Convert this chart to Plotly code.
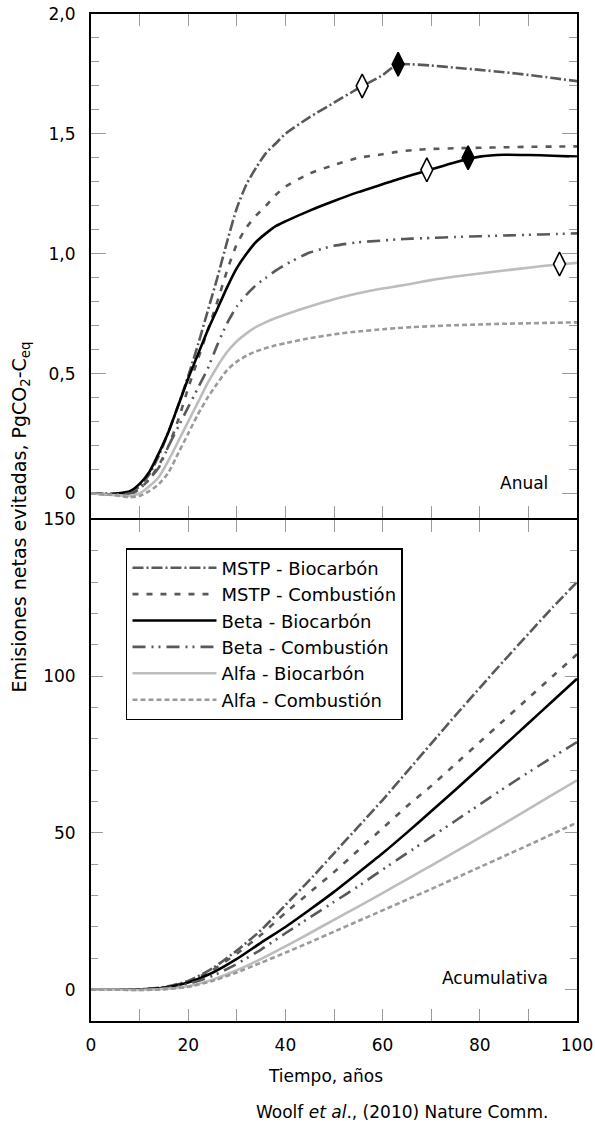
import plotly.graph_objects as go
from plotly.subplots import make_subplots

# ---------------- data ----------------
SERIES = ["MSTP - Biocarbón", "MSTP - Combustión", "Beta - Biocarbón",
          "Beta - Combustión", "Alfa - Biocarbón", "Alfa - Combustión"]

annual_x = [0, 4, 8, 10, 12, 14, 16, 18, 20, 22, 24, 26, 28, 30, 32, 34, 36, 38, 40,
            45, 50, 55, 60, 63, 66, 70, 75, 80, 85, 90, 95, 100]
annual_mstp_bio = [0, 0, 0.005, 0.03, 0.08, 0.16, 0.26, 0.37, 0.49, 0.62, 0.76, 0.90, 1.05,
                   1.19, 1.29, 1.36, 1.42, 1.46, 1.50, 1.57, 1.63, 1.69, 1.745, 1.79, 1.79,
                   1.785, 1.776, 1.767, 1.757, 1.746, 1.733, 1.72]
annual_mstp_comb = [0, -0.003, -0.005, 0.02, 0.06, 0.12, 0.2, 0.31, 0.44, 0.56, 0.68, 0.80,
                    0.93, 1.04, 1.11, 1.16, 1.20, 1.245, 1.28, 1.335, 1.37, 1.40, 1.415,
                    1.425, 1.432, 1.437, 1.44, 1.442, 1.444, 1.446, 1.447, 1.448]
annual_beta_bio = [0, -0.003, 0.01, 0.04, 0.09, 0.17, 0.26, 0.37, 0.48, 0.58, 0.68, 0.77,
                   0.86, 0.94, 1.0, 1.05, 1.085, 1.115, 1.135, 1.18, 1.22, 1.257, 1.29,
                   1.31, 1.328, 1.352, 1.382, 1.405, 1.413, 1.412, 1.409, 1.405]
annual_beta_comb = [0, -0.003, 0.0, 0.02, 0.06, 0.11, 0.2, 0.28, 0.36, 0.44, 0.52, 0.62,
                    0.71, 0.78, 0.83, 0.87, 0.90, 0.93, 0.955, 1.005, 1.033, 1.048, 1.055,
                    1.06, 1.063, 1.066, 1.07, 1.073, 1.076, 1.079, 1.082, 1.085]
annual_alfa_bio = [0, -0.005, -0.01, 0.0, 0.03, 0.07, 0.14, 0.22, 0.30, 0.38, 0.46, 0.53,
                   0.59, 0.635, 0.668, 0.695, 0.715, 0.732, 0.747, 0.78, 0.81, 0.835, 0.855,
                   0.865, 0.875, 0.89, 0.905, 0.918, 0.93, 0.942, 0.953, 0.962]
annual_alfa_comb = [0, -0.005, -0.015, -0.01, 0.01, 0.04, 0.09, 0.17, 0.25, 0.33, 0.40, 0.46,
                    0.515, 0.55, 0.575, 0.593, 0.607, 0.618, 0.627, 0.648, 0.664, 0.676,
                    0.685, 0.69, 0.694, 0.698, 0.702, 0.705, 0.708, 0.71, 0.712, 0.714]

cum_x = [0, 5, 10, 15, 20, 25, 30, 35, 40, 45, 50, 55, 60, 65, 70, 75, 80, 85, 90, 95, 100]
cum_mstp_bio = [0, 0, 0.1, 0.8, 2.8, 6.8, 12.5, 19, 27, 35, 43.5, 52, 60.5, 69.5, 78.5, 87.5,
                96.3, 105, 113.5, 122, 130]
cum_mstp_comb = [0, 0, 0.05, 0.7, 2.6, 6.3, 11.5, 17.5, 24.5, 31, 37.5, 44.5, 51.5, 58.5, 65,
                 72, 79, 86, 93, 100, 107]
cum_beta_bio = [0, 0, 0.05, 0.6, 2.3, 5.4, 9.8, 15, 20, 25.5, 31.2, 37.3, 43.5, 50.1, 56.9,
                63.8, 70.8, 77.9, 85, 92.1, 99.2]
cum_beta_comb = [0, 0, 0, 0.4, 1.8, 4.4, 8.2, 12.8, 18, 23, 28, 33, 38.3, 43.5, 48.7, 53.9,
                 59.1, 64.3, 69.3, 74.2, 79]
cum_alfa_bio = [0, 0, -0.1, 0.2, 1.1, 3.2, 6.2, 9.8, 13.8, 18, 22.3, 26.5, 30.8, 35.2, 39.6,
                44, 48.5, 53, 57.6, 62.2, 66.8]
cum_alfa_comb = [0, 0, -0.1, 0.1, 0.9, 2.8, 5.5, 8.6, 11.8, 15.1, 18.5, 21.9, 25.3, 28.7,
                 32.1, 35.6, 39.1, 42.6, 46.1, 49.7, 53.3]

# diamond markers on the annual curves (open / filled)
marker_x = [55.8, 63.2, 69.1, 77.6, 96.4]
marker_y = [1.70, 1.79, 1.35, 1.40, 0.957]
marker_filled = [False, True, False, True, False]

x_tickvals = [0, 20, 40, 60, 80, 100]
x_ticktext = ["0", "20", "40", "60", "80", "100"]
top_tickvals = [0, 0.5, 1.0, 1.5, 2.0]
top_ticktext = ["0", "0,5", "1,0", "1,5", "2,0"]
bot_tickvals = [0, 50, 100, 150]
bot_ticktext = ["0", "50", "100", "150"]

# ---------------- styles ----------------
DARK = "#595959"
styles = [
    dict(color=DARK, width=2.6, dash="11px,3px,2px,3px"),
    dict(color=DARK, width=2.6, dash="6px,8px"),
    dict(color="#000000", width=2.6, dash="solid"),
    dict(color=DARK, width=2.6, dash="13px,6px,2px,5px,2px,6px"),
    dict(color="#bdbdbd", width=2.6, dash="solid"),
    dict(color="#9a9a9a", width=2.6, dash="5px,3px"),
]
annual = [annual_mstp_bio, annual_mstp_comb, annual_beta_bio, annual_beta_comb,
          annual_alfa_bio, annual_alfa_comb]
cumul = [cum_mstp_bio, cum_mstp_comb, cum_beta_bio, cum_beta_comb, cum_alfa_bio, cum_alfa_comb]

FONT = "DejaVu Sans, Liberation Sans, Arial, sans-serif"

fig = make_subplots(rows=2, cols=1, shared_xaxes=True, vertical_spacing=0)

for i, name in enumerate(SERIES):
    fig.add_trace(go.Scatter(x=annual_x, y=annual[i], mode="lines", name=name,
                             line=dict(**styles[i], shape="spline", smoothing=0.6),
                             showlegend=False), row=1, col=1)
for i, name in enumerate(SERIES):
    fig.add_trace(go.Scatter(x=cum_x, y=cumul[i], mode="lines", name=name,
                             line=dict(**styles[i], shape="spline", smoothing=0.6),
                             showlegend=True), row=2, col=1)

fig.add_trace(go.Scatter(
    x=marker_x, y=marker_y, mode="markers", showlegend=False,
    marker=dict(symbol="diamond-tall", size=17,
                color=["#000000" if f else "#ffffff" for f in marker_filled],
                line=dict(color="#000000", width=1.6))), row=1, col=1)

TICKC = "#9a9a9a"
common_x = dict(range=[0, 100], tickvals=x_tickvals, ticktext=x_ticktext,
                ticks="inside", ticklen=12, tickcolor=TICKC, tickwidth=1.2,
                minor=dict(dtick=10, tick0=0, ticks="inside", ticklen=12,
                           tickcolor=TICKC, tickwidth=1.2),
                showline=True, linecolor="#000000", linewidth=2,
                showgrid=False, zeroline=False, automargin=False,
                ticklabelstandoff=8,
                tickfont=dict(family=FONT, size=17, color="#000000"))
fig.update_xaxes(**common_x, mirror="ticks", showticklabels=False, row=1, col=1)
fig.update_xaxes(**common_x, mirror="ticks", showticklabels=True, row=2, col=1)

fig.update_yaxes(range=[-0.1, 2.0], tickvals=top_tickvals, ticktext=top_ticktext,
                 ticks="inside", ticklen=15, tickcolor=TICKC, tickwidth=1.2,
                 minor=dict(dtick=0.1, tick0=0, ticks="inside", ticklen=8,
                            tickcolor=TICKC, tickwidth=1.2),
                 showline=True, linecolor="#000000", linewidth=2, mirror="ticks",
                 showgrid=False, zeroline=False, automargin=False, domain=[0.5, 1.0],
                 ticklabelstandoff=10,
                 tickfont=dict(family=FONT, size=17, color="#000000"), row=1, col=1)
fig.update_yaxes(range=[-10, 150], tickvals=bot_tickvals, ticktext=bot_ticktext,
                 ticks="inside", ticklen=12, tickcolor=TICKC, tickwidth=1.2,
                 minor=dict(dtick=10, tick0=0, ticks="inside", ticklen=7,
                            tickcolor=TICKC, tickwidth=1.2),
                 showline=True, linecolor="#000000", linewidth=2, mirror="ticks",
                 showgrid=False, zeroline=False, automargin=False, domain=[0.0, 0.498],
                 ticklabelstandoff=10,
                 tickfont=dict(family=FONT, size=17, color="#000000"), row=2, col=1)

fig.update_layout(
    width=595, height=1123,
    margin=dict(l=91, r=18, t=14, b=102, autoexpand=False),
    paper_bgcolor="#ffffff", plot_bgcolor="#ffffff",
    font=dict(family=FONT, size=17, color="#000000"),
    legend=dict(x=0.072, y=0.4697, xanchor="left", yanchor="top",
                bordercolor="#000000", borderwidth=1.5, bgcolor="#ffffff",
                font=dict(family=FONT, size=18, color="#000000"),
                itemwidth=84, tracegroupgap=0),
    annotations=[
        dict(text="Emisiones netas evitadas, PgCO<sub>2</sub>-C<sub>eq</sub>",
             xref="paper", yref="paper", x=-0.146, y=0.5, textangle=-90,
             showarrow=False, xanchor="center", yanchor="middle",
             font=dict(family=FONT, size=19)),
        dict(text="Tiempo, años", xref="paper", yref="paper", x=0.4835, y=-0.0546,
             showarrow=False, xanchor="center", yanchor="middle",
             font=dict(family=FONT, size=17)),
        dict(text="Woolf <i>et al</i>., (2010) Nature Comm.", xref="paper", yref="paper",
             x=0.64, y=-0.0905, showarrow=False, xanchor="center", yanchor="middle",
             font=dict(family=FONT, size=17)),
        dict(text="Anual", xref="x2", yref="y", x=94.4, y=0.045, showarrow=False,
             xanchor="right", yanchor="middle", font=dict(family=FONT, size=17)),
        dict(text="Acumulativa", xref="x2", yref="y2", x=94.4, y=3.7, showarrow=False,
             xanchor="right", yanchor="middle", font=dict(family=FONT, size=17)),
    ],
)

fig.write_html("out.html")
